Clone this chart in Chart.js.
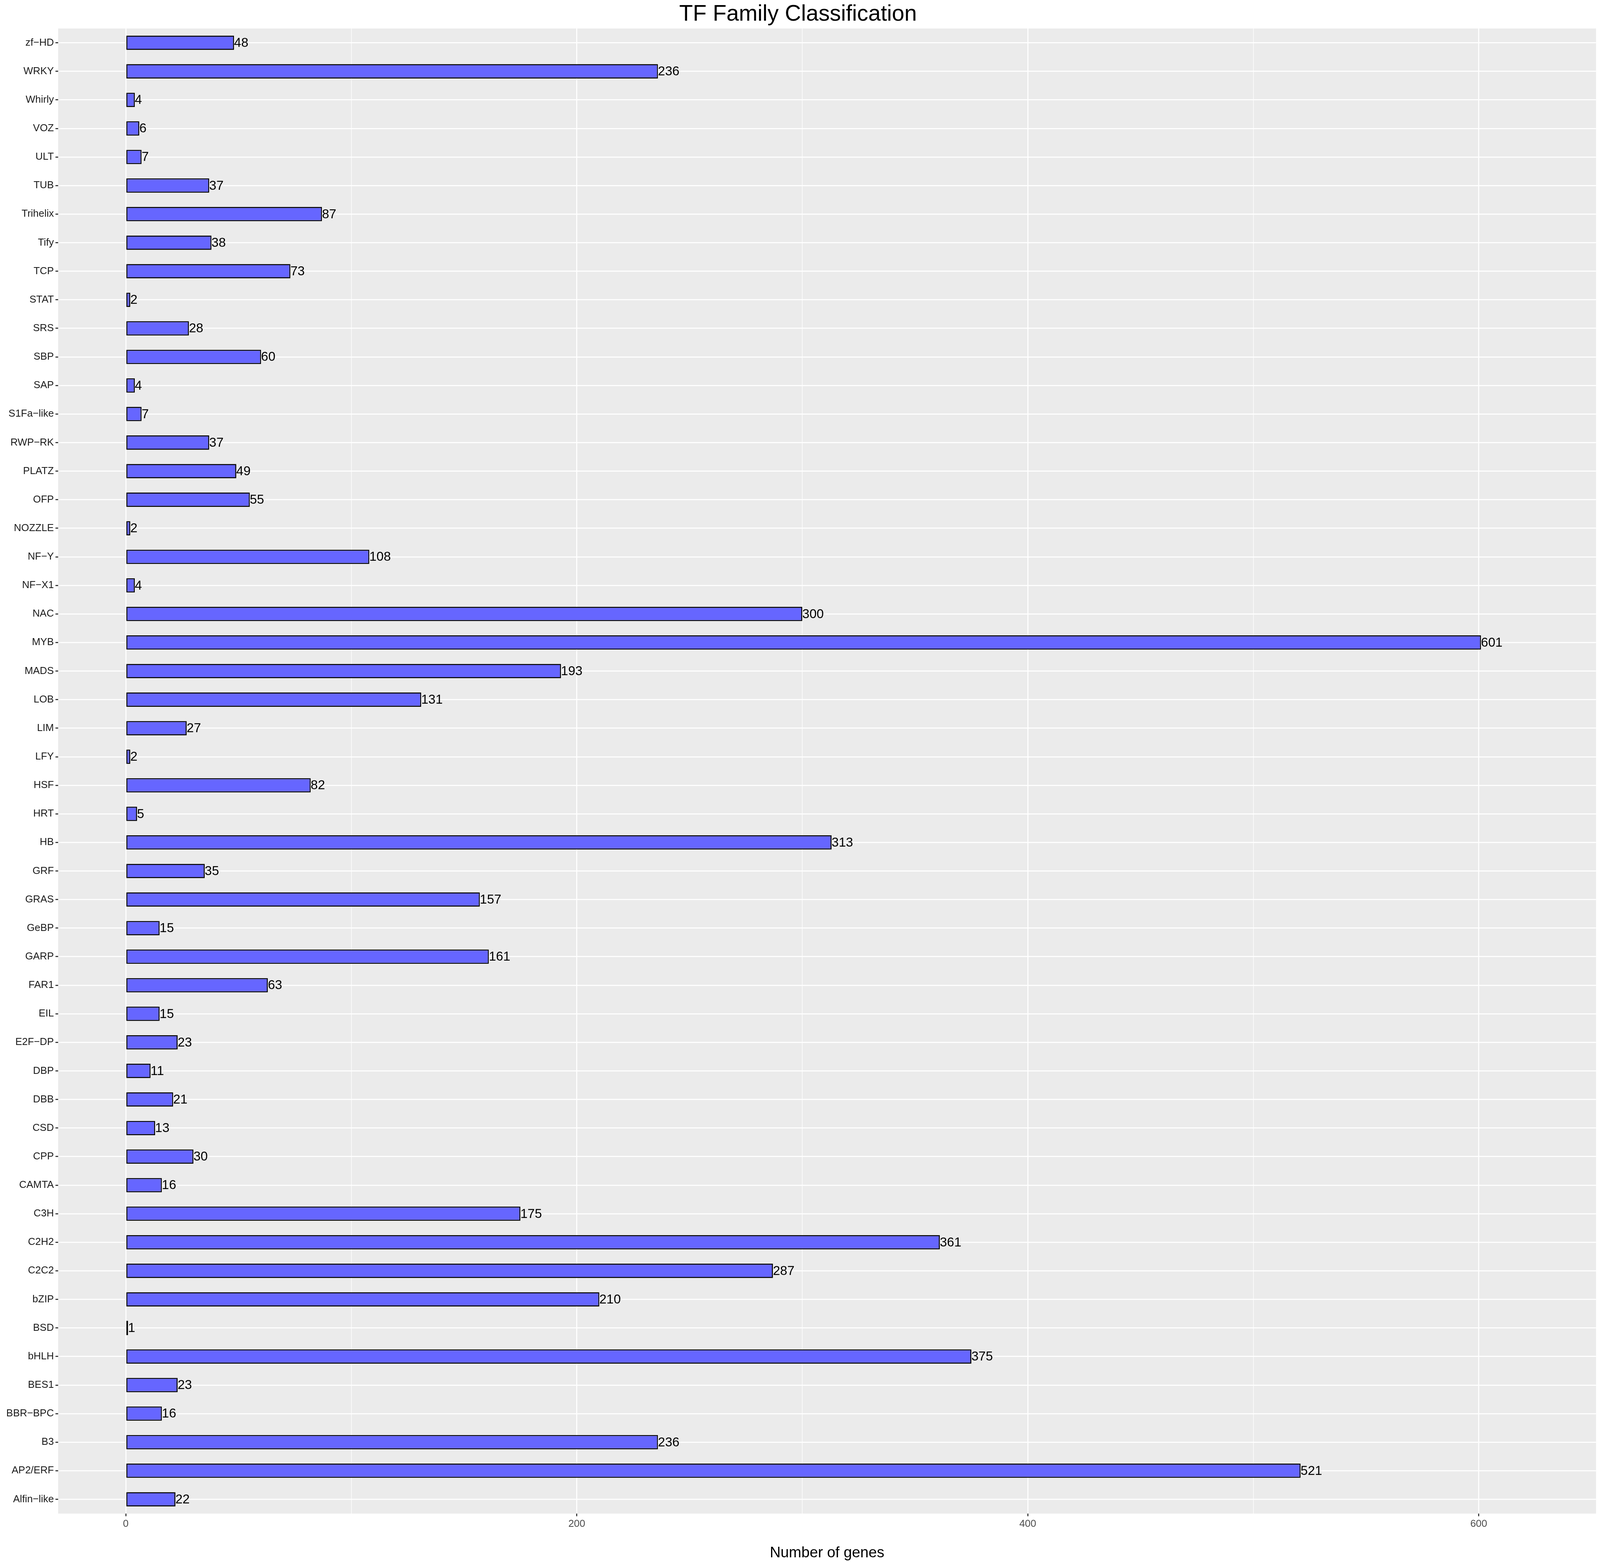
<!DOCTYPE html>
<html>
<head>
<meta charset="utf-8">
<script src="https://cdn.jsdelivr.net/npm/chart.js@4"></script>
<style>
  html, body { margin: 0; padding: 0; background: #fff; overflow: hidden; }
  #wrap { position: relative; width: 100vw; height: 100vh; }
</style>
</head>
<body>
<div id="wrap"><canvas id="chart"></canvas></div>
<script>
// families listed bottom-to-top as in the figure
const families = ['Alfin−like', 'AP2/ERF', 'B3', 'BBR−BPC', 'BES1', 'bHLH', 'BSD', 'bZIP', 'C2C2', 'C2H2',
    'C3H', 'CAMTA', 'CPP', 'CSD', 'DBB', 'DBP', 'E2F−DP', 'EIL', 'FAR1', 'GARP', 'GeBP', 'GRAS', 'GRF',
    'HB', 'HRT', 'HSF', 'LFY', 'LIM', 'LOB', 'MADS', 'MYB', 'NAC', 'NF−X1', 'NF−Y', 'NOZZLE', 'OFP',
    'PLATZ', 'RWP−RK', 'S1Fa−like', 'SAP', 'SBP', 'SRS', 'STAT', 'TCP', 'Tify', 'Trihelix', 'TUB',
    'ULT', 'VOZ', 'Whirly', 'WRKY', 'zf−HD'];
const geneCounts = [22, 521, 236, 16, 23, 375, 1, 210, 287, 361,
    175, 16, 30, 13, 21, 11, 23, 15, 63, 161, 15, 157, 35,
    313, 5, 82, 2, 27, 131, 193, 601, 300, 4, 108, 2, 55,
    49, 37, 7, 4, 60, 28, 2, 73, 38, 87, 37,
    7, 6, 4, 236, 48];

// top-to-bottom order for the category axis
const labels = families.slice().reverse();
const values = geneCounts.slice().reverse();

const FONT = 'Liberation Sans, Arial, sans-serif';
// scale everything to the window (designed for 6000x4000)
const sx = window.innerWidth / 6000;
const sy = window.innerHeight / 4000;
const s = Math.min(sx, sy);

const panelBg = {
    id: 'panelBg',
    beforeDraw(chart) {
        const a = chart.chartArea, ctx = chart.ctx;
        ctx.save();
        ctx.fillStyle = '#EBEBEB';
        ctx.fillRect(a.left, a.top, a.right - a.left, a.bottom - a.top);
        ctx.restore();
    }
};

const barLabels = {
    id: 'barLabels',
    afterDatasetsDraw(chart) {
        const ctx = chart.ctx;
        const meta = chart.getDatasetMeta(0);
        ctx.save();
        ctx.font = Math.round(48 * s) + 'px ' + FONT;
        ctx.fillStyle = '#000';
        ctx.textAlign = 'left';
        ctx.textBaseline = 'middle';
        meta.data.forEach((bar, i) => {
            ctx.fillText(String(values[i]), bar.x, bar.y + 2 * s);
        });
        ctx.restore();
    }
};

new Chart(document.getElementById('chart'), {
    type: 'bar',
    data: {
        labels: labels,
        datasets: [{
            data: values,
            backgroundColor: '#6666FF',
            borderColor: '#000000',
            borderWidth: Math.max(1, 4 * s),
            borderSkipped: false,
            categoryPercentage: 1,
            barPercentage: 0.5
        }]
    },
    options: {
        indexAxis: 'y',
        responsive: true,
        maintainAspectRatio: false,
        animation: false,
        layout: { padding: { right: 15 * sx, left: 0 } },
        plugins: {
            legend: { display: false },
            tooltip: { enabled: false },
            title: {
                display: true,
                text: 'TF Family Classification',
                color: '#000',
                font: { family: FONT, size: 84 * s, weight: 'normal' },
                padding: { top: 4 * s, bottom: 2 * s }
            }
        },
        scales: {
            x: {
                min: -30,
                max: 652,
                afterBuildTicks(axis) {
                    axis.ticks = [0, 100, 200, 300, 400, 500, 600].map(v => ({ value: v }));
                },
                afterFit(axis) { axis.height = 124 * sy; },
                ticks: {
                    color: '#4D4D4D',
                    font: { family: FONT, size: 38 * s },
                    padding: 6 * s,
                    callback: v => (v % 200 === 0 ? v : '')
                },
                grid: {
                    color: '#FFFFFF',
                    lineWidth: c => (c.tick && c.tick.value % 200 === 0 ? 4 : 2) * s,
                    tickColor: c => (c.tick && c.tick.value % 200 === 0 ? '#333333' : 'rgba(0,0,0,0)'),
                    tickLength: 10 * s
                },
                border: { display: false },
                title: {
                    display: true,
                    text: 'Number of genes',
                    color: '#000',
                    font: { family: FONT, size: 56 * s },
                    padding: { top: 0, bottom: 0 }
                }
            },
            y: {
                afterFit(axis) { axis.width = 218 * sx; },
                ticks: {
                    color: '#1A1A1A',
                    font: { family: FONT, size: 38 * s },
                    padding: 6 * s,
                    autoSkip: false
                },
                grid: {
                    offset: false,
                    color: '#FFFFFF',
                    lineWidth: 4 * s,
                    tickColor: '#333333',
                    tickLength: 10 * s
                },
                border: { display: false }
            }
        }
    },
    plugins: [panelBg, barLabels]
});
</script>
</body>
</html>
